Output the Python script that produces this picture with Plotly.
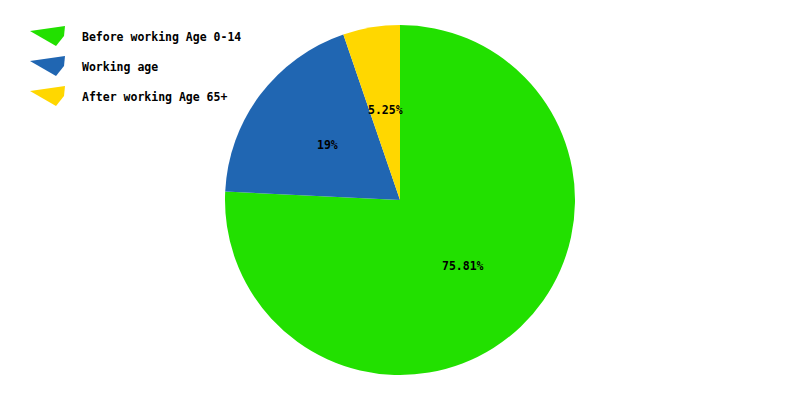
import math
import plotly.graph_objects as go

categories = ["Before working Age 0-14", "Working age", "After working Age 65+"]
values = [75.81, 19, 5.25]
colors = ["#22e000", "#2066b2", "#ffd700"]

W, H = 800, 400
FONT = "DejaVu Sans Mono"

# pie geometry (paper domain)
dom_y = [25 / H, 375 / H]

fig = go.Figure()
fig.add_trace(go.Pie(
    labels=categories,
    values=values,
    marker=dict(colors=colors, line=dict(width=0)),
    sort=False,
    direction="clockwise",
    rotation=0,
    textinfo="none",
    domain=dict(x=[0, 1], y=dom_y),
    showlegend=False,
    hoverinfo="label+value",
))

annotations = []
# slice labels placed at about half radius on each slice's mid angle (derived from values)
total = sum(values)
cx, cy = 0.5, (dom_y[0] + dom_y[1]) / 2
r_px = (dom_y[1] - dom_y[0]) * H / 2
acc = 0.0
for v in values:
    mid = (acc + v / 2) / total * 2 * math.pi
    acc += v
    px = 0.52 * r_px * math.sin(mid)
    py = 0.52 * r_px * math.cos(mid)
    annotations.append(dict(x=cx + px / W, y=cy + py / H, xref="paper", yref="paper",
                            xanchor="center", yanchor="middle",
                            text=f"{v:g}%", showarrow=False,
                            font=dict(family=FONT, size=11.5, color="black", weight="bold")))

# custom legend (wedge icons + labels)
shapes = []
for i, (name, col) in enumerate(zip(categories, colors)):
    oy = 30 * i
    pts = [(30, 31 + oy), (65, 26 + oy), (64, 36 + oy), (56, 46 + oy)]
    path = "M " + " L ".join(f"{x / W:.5f},{1 - y / H:.5f}" for x, y in pts) + " Z"
    shapes.append(dict(type="path", xref="paper", yref="paper", path=path,
                       fillcolor=col, line=dict(width=0)))
    annotations.append(dict(x=80 / W, y=1 - (37 + oy) / H, xref="paper", yref="paper",
                            text=name, showarrow=False, xanchor="left", yanchor="middle",
                            font=dict(family=FONT, size=11.5, color="black",
                                      weight="bold")))

fig.update_layout(
    width=W, height=H,
    margin=dict(l=0, r=0, t=0, b=0),
    paper_bgcolor="white",
    plot_bgcolor="white",
    shapes=shapes,
    annotations=annotations,
)

fig.write_html("out.html", config={"displayModeBar": False},
               post_script="document.body.style.margin='0px';")
